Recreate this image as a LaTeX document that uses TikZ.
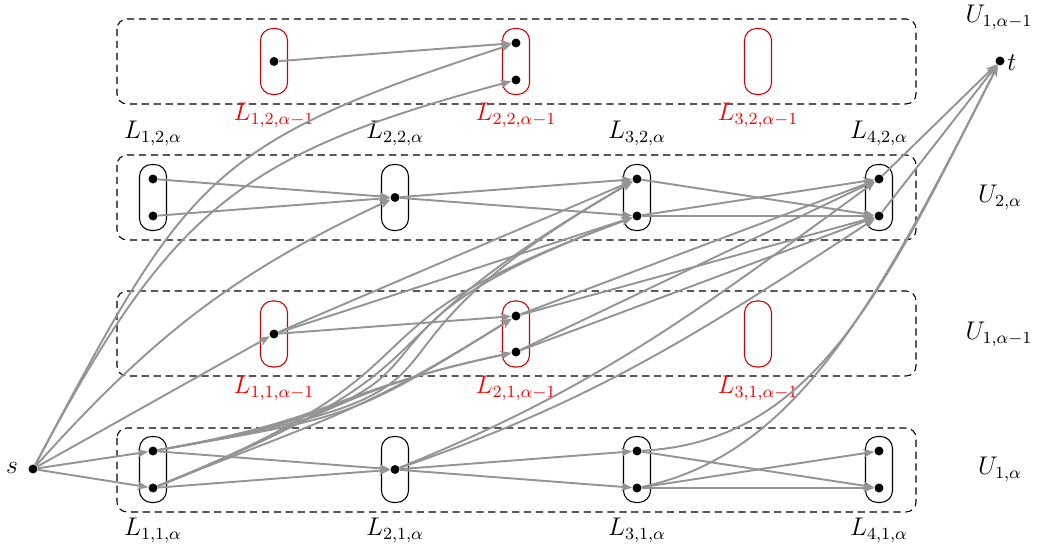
\documentclass[tikz,border=0pt]{standalone}
\usetikzlibrary{arrows.meta}
\begin{document}
\begin{tikzpicture}[x=0.47pt,y=-0.47pt,
  font=\fontsize{12}{14}\selectfont,
  dot/.style={circle,fill=black,inner sep=0pt,minimum size=4.2pt},
  blkbox/.style={draw=black,line width=0.5pt,rounded corners=5.6pt,minimum width=12.7pt,minimum height=31pt,inner sep=0pt},
  redbox/.style={blkbox,draw=red!80!black},
  layer/.style={draw=black,line width=0.5pt,dash pattern=on 3.4pt off 2.2pt,rounded corners=4.7pt},
  edge/.style={draw=black!42,line width=0.9pt,-{Stealth[length=5pt,width=4pt,inset=1.3pt]}},
  lab/.style={anchor=base},
  rlab/.style={anchor=base,text=red},
]
\useasboundingbox (0,0) rectangle (1042,550);

% layers
\draw[layer] (117,19) rectangle (916,104);
\draw[layer] (117,155) rectangle (916,240);
\draw[layer] (117,291) rectangle (916,376);
\draw[layer] (117,428) rectangle (916,512);

% boxes
\node[blkbox] (A1) at (153,469.5) {};
\node[blkbox] (A2) at (395,469.5) {};
\node[blkbox] (A3) at (637,469.5) {};
\node[blkbox] (A4) at (879,469.5) {};
\node[blkbox] (C1) at (153,197.5) {};
\node[blkbox] (C2) at (395,197.5) {};
\node[blkbox] (C3) at (637,197.5) {};
\node[blkbox] (C4) at (879,197.5) {};
\node[redbox] (B1) at (274,334) {};
\node[redbox] (B2) at (516,334) {};
\node[redbox] (B3) at (758,334) {};
\node[redbox] (D1) at (274,61.5) {};
\node[redbox] (D2) at (516,61.5) {};
\node[redbox] (D3) at (758,61.5) {};

% dots
\node[dot] (s) at (33,469) {};
\node[dot] (t) at (1000,61) {};
\node[dot] (a1t) at (153,451) {};
\node[dot] (a1b) at (153,488) {};
\node[dot] (a2) at (395,469.5) {};
\node[dot] (a3t) at (637,451) {};
\node[dot] (a3b) at (637,488) {};
\node[dot] (a4t) at (879,451) {};
\node[dot] (a4b) at (879,488) {};
\node[dot] (c1t) at (153,179) {};
\node[dot] (c1b) at (153,216) {};
\node[dot] (c2) at (395,197.5) {};
\node[dot] (c3t) at (637,179) {};
\node[dot] (c3b) at (637,216) {};
\node[dot] (c4t) at (879,179) {};
\node[dot] (c4b) at (879,216) {};
\node[dot] (b1) at (274,334) {};
\node[dot] (b2t) at (516,316) {};
\node[dot] (b2b) at (516,352) {};
\node[dot] (d1) at (274,61.5) {};
\node[dot] (d2t) at (516,43) {};
\node[dot] (d2b) at (516,80) {};

% labels
\node[lab] (slab) at (12,474) {$s$};
\node[anchor=base west,inner sep=0pt] (tlab) at (1007,71) {$t$};
\node[lab] (u4) at (999,23) {$U_{1,\alpha-1}$};
\node[lab] (u3) at (1000,203) {$U_{2,\alpha}$};
\node[lab] (u2) at (999,340) {$U_{1,\alpha-1}$};
\node[lab] (u1) at (1000,475) {$U_{1,\alpha}$};
\node[lab] (l12) at (153,139) {$L_{1,2,\alpha}$};
\node[lab] (l22) at (395,139) {$L_{2,2,\alpha}$};
\node[lab] (l32) at (637,139) {$L_{3,2,\alpha}$};
\node[lab] (l42) at (879,139) {$L_{4,2,\alpha}$};
\node[lab] (l11) at (153,536) {$L_{1,1,\alpha}$};
\node[lab] (l21) at (395,536) {$L_{2,1,\alpha}$};
\node[lab] (l31) at (637,536) {$L_{3,1,\alpha}$};
\node[lab] (l41) at (879,536) {$L_{4,1,\alpha}$};
\node[rlab] (r12) at (274,121) {$L_{1,2,\alpha-1}$};
\node[rlab] (r22) at (516,121) {$L_{2,2,\alpha-1}$};
\node[rlab] (r32) at (758,121) {$L_{3,2,\alpha-1}$};
\node[rlab] (r11) at (274,394) {$L_{1,1,\alpha-1}$};
\node[rlab] (r21) at (516,394) {$L_{2,1,\alpha-1}$};
\node[rlab] (r31) at (758,394) {$L_{3,1,\alpha-1}$};

% edges from s
\draw[edge] (s) -- (a1t);
\draw[edge] (s) -- (a1b);
\draw[edge] (s) -- (b1);
\draw[edge] (s) to[out=48,in=205] (c2);
\draw[edge] (s) to[out=62,in=198,looseness=1.3] (d2t);
\draw[edge] (s) to[out=62,in=195,looseness=1.2] (d2b);

% top layer
\draw[edge] (d1) -- (d2t);

% layer U_{2,alpha}
\draw[edge] (c1t) -- (c2);
\draw[edge] (c1b) -- (c2);
\draw[edge] (c2) -- (c3t);
\draw[edge] (c2) -- (c3b);
\draw[edge] (c3t) -- (c4b);
\draw[edge] (c3b) -- (c4t);
\draw[edge] (c3b) -- (c4b);
\draw[edge] (c4t) -- (t);
\draw[edge] (c4b) -- (t);

% layer U_{1,alpha-1}
\draw[edge] (b1) -- (b2t);
\draw[edge] (b1) -- (c3t);
\draw[edge] (b1) -- (c3b);
\draw[edge] (b2t) -- (c4t);
\draw[edge] (b2t) -- (c4b);
\draw[edge] (b2b) -- (c4t);
\draw[edge] (b2b) -- (c4b);

% layer U_{1,alpha}
\draw[edge] (a1t) -- (a2);
\draw[edge] (a1b) -- (a2);
\draw[edge] (a2) -- (a3t);
\draw[edge] (a2) -- (a3b);
\draw[edge] (a3t) -- (a4b);
\draw[edge] (a3b) -- (a4t);
\draw[edge] (a3b) -- (a4b);

% curved cross edges
\draw[edge] (a1t) to[out=10,in=212,looseness=1.3] (b2t);
\draw[edge] (a1t) to[out=10,in=192,looseness=1.3] (b2b);
\draw[edge] (a1b) to[out=22,in=212,looseness=1.2] (b2t);
\draw[edge] (a1b) to[out=22,in=192,looseness=1.2] (b2b);
\draw[edge] (a1t) to[out=10,in=210,looseness=1.8] (c3t);
\draw[edge] (a1t) to[out=10,in=200,looseness=1.8] (c3b);
\draw[edge] (a1b) to[out=22,in=210,looseness=1.6] (c3t);
\draw[edge] (a1b) to[out=22,in=200,looseness=1.6] (c3b);
\draw[edge] (a2) to[out=22,in=216] (c4t);
\draw[edge] (a2) to[out=19,in=213] (c4b);
\draw[edge] (a3t) to[out=3,in=243,out distance=82pt,in distance=118pt] (t);
\draw[edge] (a3b) to[out=12,in=243,out distance=75pt,in distance=125pt] (t);
\end{tikzpicture}
\end{document}
